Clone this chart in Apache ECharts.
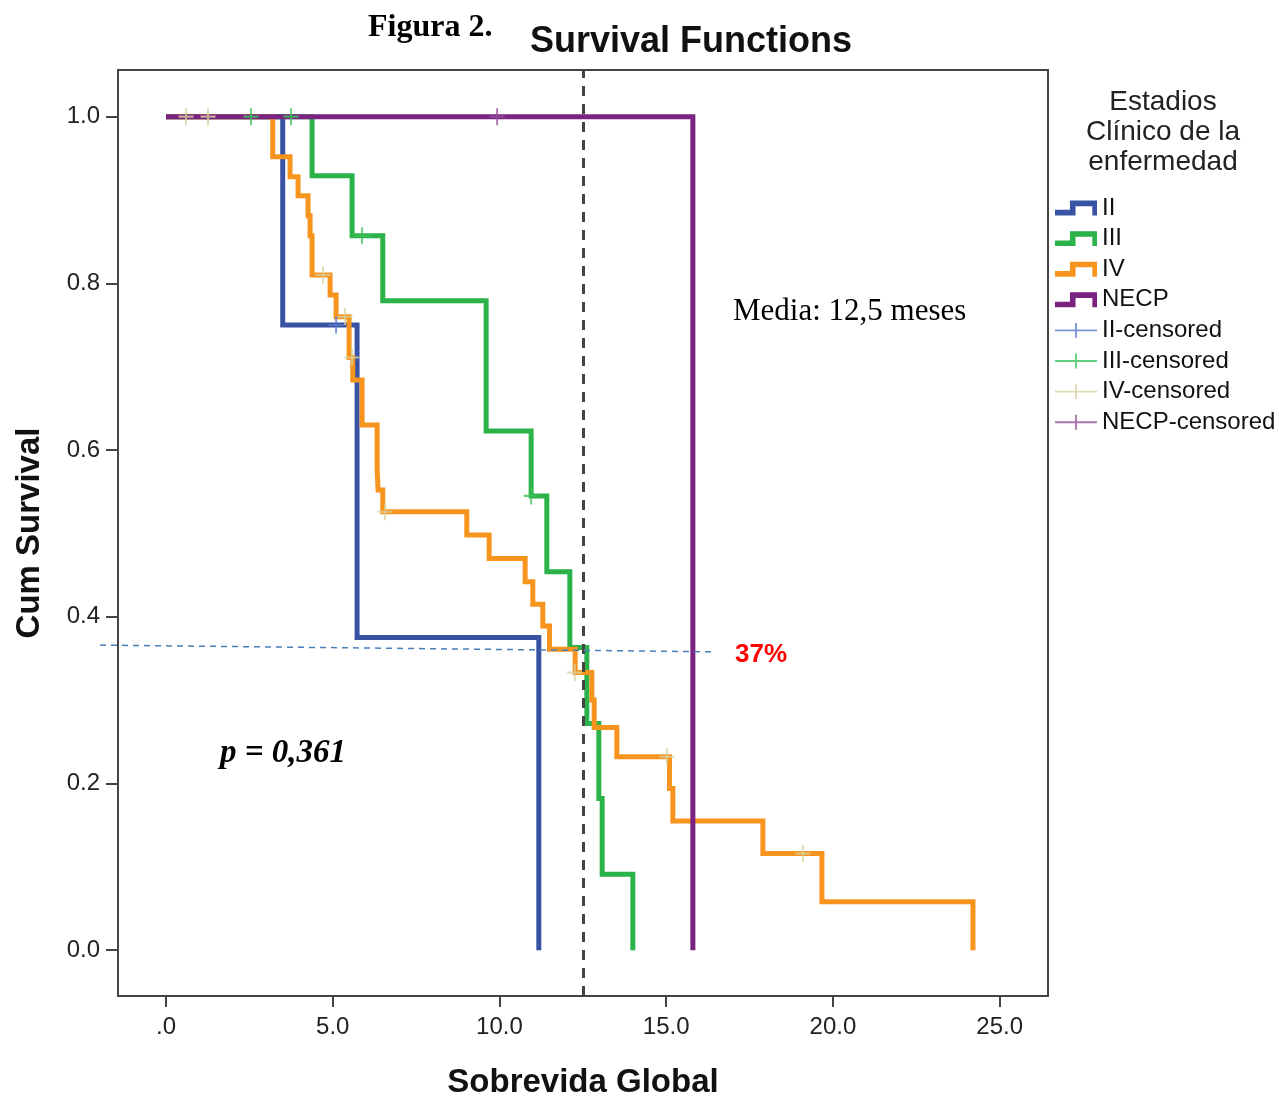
<!DOCTYPE html>
<html>
<head>
<meta charset="utf-8">
<script src="https://cdn.jsdelivr.net/npm/echarts@6/dist/echarts.min.js"></script>
<style>
html,body{margin:0;padding:0;background:#fff;}
#chart{width:1279px;height:1097px;}
</style>
</head>
<body>
<div id="chart"></div>
<script>
// ---- data ----
const xTickValues = [0, 5, 10, 15, 20, 25];
const yTickValues = [0, 0.2, 0.4, 0.6, 0.8, 1.0];

const timesII = [0, 3.5, 5.73, 11.18];
const survII  = [1, 0.75, 0.375, 0];

const timesIII = [0, 4.38, 5.58, 6.5, 9.6, 10.95, 11.42, 12.11, 12.62, 12.98, 13.08, 14.0];
const survIII  = [1, 0.929, 0.857, 0.779, 0.623, 0.545, 0.454, 0.363, 0.272, 0.182, 0.091, 0];

const timesIV = [0, 3.2, 3.72, 3.96, 4.26, 4.32, 4.38, 4.92, 5.1, 5.49, 5.6, 5.88, 6.33, 6.36, 6.5,
                 9.02, 9.69, 10.77, 11.0, 11.3, 11.5, 12.27, 12.77, 12.84, 13.52, 15.1, 15.2, 17.9, 19.67, 24.2];
const survIV  = [1, 0.952, 0.928, 0.905, 0.881, 0.857, 0.810, 0.786, 0.760, 0.711, 0.684, 0.630, 0.578, 0.552, 0.526,
                 0.498, 0.470, 0.442, 0.415, 0.389, 0.361, 0.333, 0.300, 0.267, 0.232, 0.194, 0.155, 0.116, 0.058, 0];

const timesNECP = [0, 15.8];
const survNECP  = [1, 0];

const censII   = [[5.1, 0.75]];
const censIII  = [[2.55, 1], [3.75, 1], [5.88, 0.857], [10.95, 0.545]];
const censIV   = [[0.6, 1], [1.26, 1], [4.71, 0.810], [5.37, 0.760], [5.58, 0.711], [6.57, 0.526], [12.26, 0.333], [15.02, 0.232], [19.1, 0.116]];
const censNECP = [[9.93, 1]];

const medianTime = 12.5;
const refLevelStart = [-1.98, 0.366];
const refLevelEnd = [16.4, 0.358];

// ---- styling ----
const colII = '#3953a4', colIII = '#2bb34a', colIV = '#f7941d', colNECP = '#7b2382';
const cII = '#5a78cf', cIII = '#3cc25a', cIV = '#d6cf9e', cNECP = '#95509a';
const stepIcon = 'path://M0,10 L16,10 L16,0 L45,0 L45,16 L40,16 L40,6 L22,6 L22,16 L0,16 Z';
const censIcon = 'path://M0,7 L45,7 L45,9 L0,9 Z M21.5,0 L23.5,0 L23.5,16 L21.5,16 Z';
const crossSym = 'path://M0,7 L16,7 L16,9 L0,9 Z M7,0 L9,0 L9,16 L7,16 Z';

function pairs(t, s) { return t.map((v, i) => [v, s[i]]); }

function stepSeries(name, t, s, color, z) {
  return {
    name, type: 'line', step: 'end', data: pairs(t, s), showSymbol: false,
    color, itemStyle: {color}, lineStyle: {color, width: 5, join: 'miter'}, z,
    animation: false
  };
}
function censSeries(name, d, color) {
  return {
    name, type: 'scatter', data: d, symbol: crossSym, symbolSize: [15, 17],
    color, itemStyle: {color}, z: 10, animation: false
  };
}

const chart = echarts.init(document.getElementById('chart'));
const FF = 'Liberation Sans';

const option = {
  animation: false,
  backgroundColor: '#fff',
  grid: {left: 118, top: 70, right: 231, bottom: 101, show: true, borderColor: '#444', borderWidth: 2,
         containLabel: false, outerBoundsMode: 'none'},
  xAxis: {
    type: 'value', min: -1.44, max: 26.45,
    splitLine: {show: false},
    axisLine: {show: true, onZero: false, lineStyle: {color: '#444', width: 2}},
    axisTick: {show: true, length: 11, customValues: xTickValues, lineStyle: {color: '#444', width: 2}},
    axisLabel: {customValues: xTickValues, margin: 19, fontFamily: FF, fontSize: 24, color: '#222',
      formatter: v => v === 0 ? '.0' : v.toFixed(1)},
    name: 'Sobrevida Global', nameLocation: 'middle', nameGap: 70,
    nameTextStyle: {fontFamily: FF, fontWeight: 'bold', fontSize: 33, color: '#111'}
  },
  yAxis: {
    type: 'value', min: -0.055, max: 1.056,
    splitLine: {show: false},
    axisLine: {show: true, onZero: false, lineStyle: {color: '#444', width: 2}},
    axisTick: {show: true, length: 12, customValues: yTickValues, lineStyle: {color: '#444', width: 2}},
    axisLabel: {customValues: yTickValues, margin: 18, fontFamily: FF, fontSize: 24, color: '#222',
      formatter: v => v.toFixed(1)},
    name: 'Cum Survival', nameLocation: 'middle', nameGap: 72, nameRotate: 90,
    nameTextStyle: {fontFamily: FF, fontWeight: 'bold', fontSize: 33, color: '#111'}
  },
  legend: {
    orient: 'vertical', left: 1050, top: 191,
    itemWidth: 42, itemHeight: 18, itemGap: 6.6,
    textStyle: {fontFamily: FF, fontSize: 24, color: '#111'},
    data: [
      {name: 'II', icon: stepIcon},
      {name: 'III', icon: stepIcon},
      {name: 'IV', icon: stepIcon},
      {name: 'NECP', icon: stepIcon},
      {name: 'II-censored', icon: censIcon},
      {name: 'III-censored', icon: censIcon},
      {name: 'IV-censored', icon: censIcon},
      {name: 'NECP-censored', icon: censIcon}
    ],
    selectedMode: false
  },
  series: [
    Object.assign(stepSeries('II', timesII, survII, colII, 2), {
      markLine: {
        silent: true, symbol: 'none', label: {show: false},
        lineStyle: {color: '#444', type: [10, 8], width: 3},
        data: [{xAxis: medianTime}]
      }
    }),
    stepSeries('III', timesIII, survIII, colIII, 3),
    stepSeries('IV', timesIV, survIV, colIV, 4),
    stepSeries('NECP', timesNECP, survNECP, colNECP, 5),
    censSeries('II-censored', censII, cII),
    censSeries('III-censored', censIII, cIII),
    censSeries('IV-censored', censIV, cIV),
    censSeries('NECP-censored', censNECP, cNECP)
  ],
  graphic: [
    {type: 'text', x: 368, y: 28, style: {text: 'Figura 2.', font: 'bold 32px "Liberation Serif"', fill: '#000', verticalAlign: 'middle'}},
    {type: 'text', x: 691, y: 42, style: {text: 'Survival Functions', font: 'bold 36px "Liberation Sans"', fill: '#111', align: 'center', verticalAlign: 'middle'}},
    {type: 'text', x: 1163, y: 87, style: {text: 'Estadios\nClínico de la\nenfermedad', font: '28px "Liberation Sans"', fill: '#222', align: 'center', lineHeight: 30}},
    {type: 'text', x: 733, y: 312, style: {text: 'Media: 12,5 meses', font: '31px "Liberation Serif"', fill: '#000', verticalAlign: 'middle'}},
    {type: 'text', x: 735, y: 655, style: {text: '37%', font: 'bold 26px "Liberation Sans"', fill: '#ff0000', verticalAlign: 'middle'}},
    {type: 'text', x: 220, y: 753, style: {text: 'p = 0,361', font: 'italic bold 33px "Liberation Serif"', fill: '#000', verticalAlign: 'middle'}}
  ]
};
chart.setOption(option);

// reference dashed line at the survival level at median, in data coordinates
const p1 = chart.convertToPixel({gridIndex: 0}, refLevelStart);
const p2 = chart.convertToPixel({gridIndex: 0}, refLevelEnd);
option.graphic.push({
  type: 'line', z: 20,
  shape: {x1: p1[0], y1: p1[1], x2: p2[0], y2: p2[1]},
  style: {stroke: '#4a7ebb', lineWidth: 1.5, lineDash: [6, 5]}
});
chart.setOption({graphic: option.graphic});
</script>
</body>
</html>
